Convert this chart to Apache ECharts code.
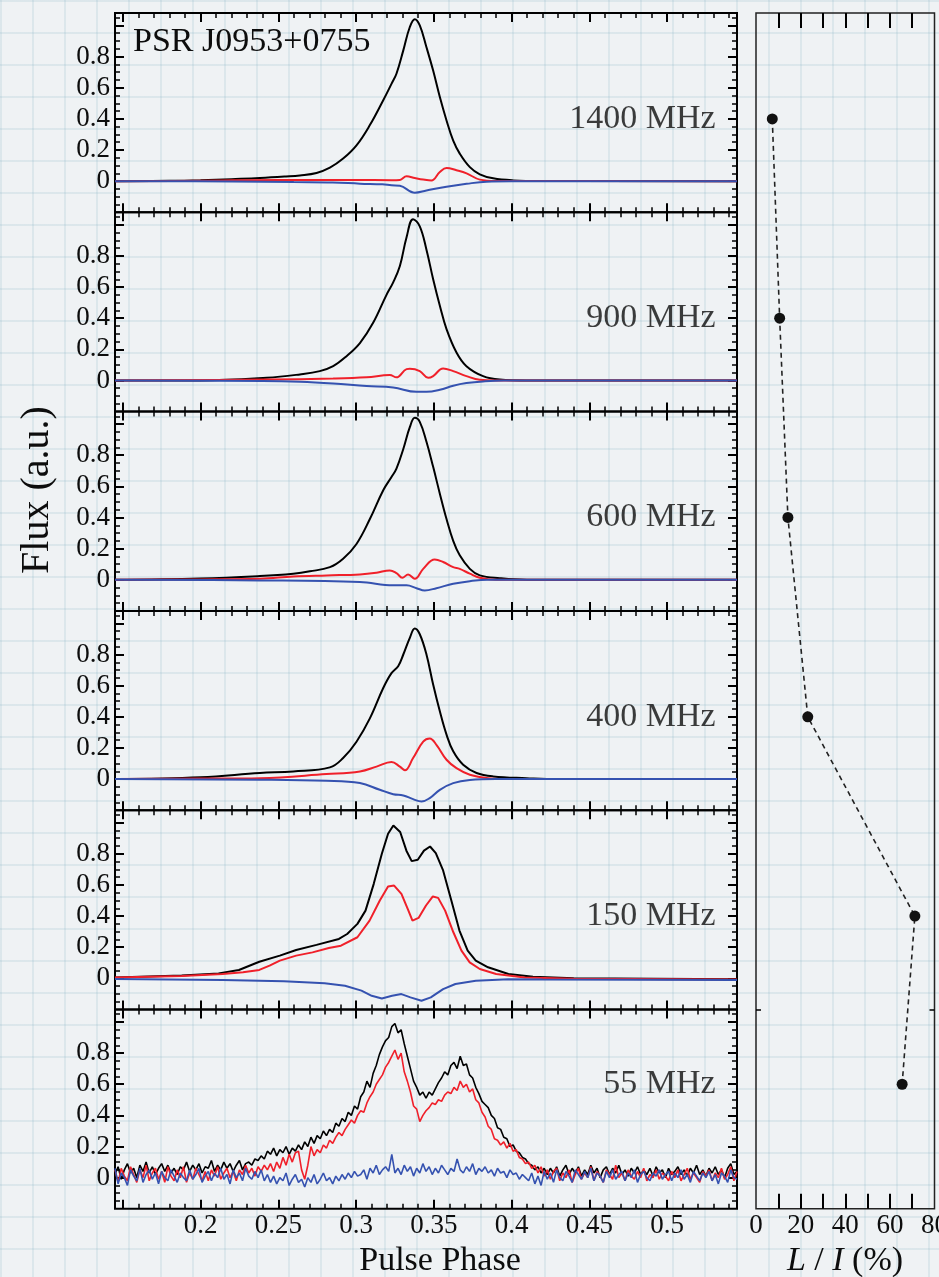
<!DOCTYPE html>
<html><head><meta charset="utf-8">
<script src="https://cdn.jsdelivr.net/npm/echarts@6/dist/echarts.min.js"></script>
<style>
html,body{margin:0;padding:0;background:#eff2f4;}
#c{width:939px;height:1277px;background-color:#eff2f4;
background-image:
 linear-gradient(to right, rgba(150,190,205,0.22) 0, rgba(150,190,205,0.22) 2px, transparent 2px),
 linear-gradient(to bottom, rgba(150,190,205,0.22) 0, rgba(150,190,205,0.22) 2px, transparent 2px);
background-size:32px 32px;}
</style></head><body><div id="c"></div><script>
// ---------------- DATA ----------------
const FREQ_LABELS = ['1400 MHz','900 MHz','600 MHz','400 MHz','150 MHz','55 MHz'];
const LABEL_LEVEL = [0.4,0.4,0.4,0.4,0.4,0.6];
const LI_PERCENT = [7.3,10.6,14.3,23.2,71.2,65.5];
const PHASE_TICKS = [0.2,0.25,0.3,0.35,0.4,0.45,0.5];
const FLUX_TICKS = [0,0.2,0.4,0.6,0.8];
const LI_TICKS = [0,20,40,60,80];

// 1400 MHz  [phase, flux]
const I_1400 = [[0.145,0],[0.18,0.002],[0.2,0.006],[0.22,0.013],[0.2382,0.02],[0.255,0.03],[0.2639,0.037],[0.2746,0.053],[0.2832,0.087],[0.2917,0.145],[0.3003,0.23],[0.3089,0.36],[0.3175,0.52],[0.3228,0.625],[0.326,0.69],[0.3304,0.84],[0.3346,0.99],[0.3378,1.04],[0.341,1.0],[0.3453,0.86],[0.3496,0.71],[0.3539,0.54],[0.3582,0.39],[0.3625,0.26],[0.3667,0.177],[0.3732,0.09],[0.3796,0.044],[0.3882,0.018],[0.4011,0.005],[0.42,0.001],[0.545,0]];
const L_1400 = [[0.145,0],[0.2,0.003],[0.25,0.008],[0.3,0.008],[0.3228,0.006],[0.3282,0.008],[0.3325,0.031],[0.3378,0.02],[0.3432,0.01],[0.3485,0.004],[0.3539,0.059],[0.3582,0.085],[0.3646,0.07],[0.3711,0.05],[0.3796,0.01],[0.39,0.001],[0.545,0]];
const V_1400 = [[0.145,0],[0.22,-0.002],[0.26,-0.006],[0.285,-0.008],[0.3025,-0.016],[0.317,-0.02],[0.3228,-0.027],[0.3282,-0.03],[0.3378,-0.074],[0.3453,-0.06],[0.3582,-0.036],[0.3711,-0.017],[0.384,-0.003],[0.4,0],[0.545,0]];
// 900 MHz
const I_900 = [[0.145,0],[0.1997,0],[0.2425,0.017],[0.2639,0.039],[0.2767,0.06],[0.2853,0.092],[0.2939,0.156],[0.3025,0.24],[0.311,0.37],[0.3196,0.55],[0.3239,0.63],[0.3282,0.735],[0.3325,0.92],[0.3367,1.036],[0.341,0.99],[0.3453,0.84],[0.3496,0.65],[0.3539,0.48],[0.3582,0.33],[0.3646,0.18],[0.371,0.092],[0.3817,0.028],[0.3924,0.006],[0.41,0],[0.545,0]];
const L_900 = [[0.145,0],[0.2425,0.006],[0.2853,0.012],[0.3068,0.02],[0.3217,0.035],[0.326,0.02],[0.3325,0.073],[0.3346,0.075],[0.341,0.06],[0.3464,0.017],[0.3496,0.028],[0.356,0.077],[0.3625,0.06],[0.371,0.028],[0.3796,0.004],[0.39,0],[0.545,0]];
const V_900 = [[0.145,0],[0.24,-0.004],[0.2639,-0.009],[0.2853,-0.02],[0.3068,-0.036],[0.3239,-0.045],[0.3389,-0.073],[0.3453,-0.073],[0.3539,-0.06],[0.3625,-0.034],[0.371,-0.017],[0.3817,-0.006],[0.395,0],[0.545,0]];
// 600 MHz
const I_600 = [[0.145,0],[0.2,0.008],[0.2382,0.024],[0.2596,0.039],[0.2703,0.054],[0.2832,0.081],[0.2917,0.135],[0.3003,0.23],[0.3089,0.39],[0.3175,0.575],[0.3228,0.66],[0.326,0.714],[0.3304,0.84],[0.3346,0.98],[0.3378,1.04],[0.341,1.014],[0.3453,0.886],[0.3496,0.725],[0.3539,0.553],[0.3582,0.39],[0.3625,0.25],[0.3667,0.157],[0.3732,0.07],[0.3796,0.028],[0.3924,0.01],[0.41,0],[0.545,0]];
const L_600 = [[0.145,0],[0.2,0.002],[0.2382,0.006],[0.2596,0.021],[0.281,0.028],[0.3025,0.034],[0.3132,0.045],[0.3217,0.06],[0.326,0.043],[0.3298,0.013],[0.3335,0.034],[0.3378,0.006],[0.3432,0.07],[0.3506,0.13],[0.356,0.114],[0.3625,0.081],[0.3667,0.07],[0.3732,0.039],[0.3796,0.013],[0.39,0],[0.545,0]];
const V_600 = [[0.145,0],[0.2382,-0.004],[0.3025,-0.015],[0.3239,-0.036],[0.3325,-0.036],[0.3389,-0.054],[0.3442,-0.069],[0.3517,-0.054],[0.3625,-0.026],[0.3732,-0.009],[0.385,0],[0.545,0]];
// 400 MHz
const I_400 = [[0.145,0],[0.2,0.012],[0.2382,0.039],[0.2596,0.049],[0.2832,0.075],[0.2917,0.135],[0.3003,0.24],[0.3089,0.39],[0.3175,0.585],[0.3228,0.68],[0.3271,0.725],[0.3304,0.8],[0.3346,0.907],[0.3378,0.967],[0.341,0.93],[0.3453,0.8],[0.3496,0.607],[0.3539,0.435],[0.3582,0.285],[0.3625,0.178],[0.3689,0.092],[0.3775,0.039],[0.3882,0.017],[0.4096,0.006],[0.43,0],[0.545,0]];
const L_400 = [[0.145,0],[0.2,0.003],[0.2382,0.006],[0.281,0.032],[0.3025,0.049],[0.3132,0.08],[0.3228,0.11],[0.3282,0.08],[0.3314,0.056],[0.3367,0.135],[0.3432,0.24],[0.3474,0.26],[0.3517,0.22],[0.3582,0.124],[0.3646,0.07],[0.3732,0.028],[0.385,0.006],[0.4,0],[0.545,0]];
const V_400 = [[0.145,0],[0.2382,-0.004],[0.281,-0.011],[0.3025,-0.026],[0.3153,-0.069],[0.3239,-0.097],[0.3304,-0.105],[0.3367,-0.129],[0.3421,-0.144],[0.3474,-0.122],[0.3539,-0.069],[0.3625,-0.026],[0.3732,-0.006],[0.39,0],[0.545,0]];
// 150 MHz
const I_150 = [[0.145,0.006],[0.1879,0.019],[0.2116,0.032],[0.2247,0.054],[0.2378,0.107],[0.251,0.146],[0.2615,0.182],[0.2746,0.215],[0.289,0.253],[0.2943,0.285],[0.3009,0.35],[0.3061,0.435],[0.3114,0.607],[0.3166,0.8],[0.3206,0.929],[0.324,0.982],[0.3284,0.94],[0.3324,0.82],[0.3358,0.753],[0.3397,0.762],[0.3437,0.82],[0.3476,0.847],[0.3513,0.804],[0.356,0.693],[0.3613,0.5],[0.3665,0.307],[0.3718,0.178],[0.377,0.114],[0.3849,0.071],[0.398,0.028],[0.4138,0.011],[0.44,0.0],[0.545,-0.006]];
const L_150 = [[0.145,0.006],[0.1879,0.015],[0.2142,0.028],[0.2273,0.039],[0.2378,0.054],[0.2444,0.082],[0.251,0.114],[0.2615,0.146],[0.272,0.167],[0.2825,0.195],[0.2903,0.21],[0.3009,0.264],[0.3087,0.371],[0.3153,0.5],[0.3206,0.59],[0.3245,0.596],[0.3292,0.543],[0.3337,0.435],[0.3363,0.371],[0.3402,0.388],[0.345,0.468],[0.3494,0.526],[0.3528,0.517],[0.3573,0.435],[0.3626,0.296],[0.3678,0.178],[0.3731,0.103],[0.3796,0.06],[0.3901,0.028],[0.4085,0.006],[0.44,-0.002],[0.545,-0.008]];
const V_150 = [[0.145,-0.004],[0.2142,-0.011],[0.2536,-0.019],[0.2798,-0.032],[0.2929,-0.047],[0.3035,-0.079],[0.3101,-0.112],[0.3166,-0.129],[0.3232,-0.112],[0.3292,-0.101],[0.335,-0.122],[0.3421,-0.144],[0.3481,-0.122],[0.356,-0.069],[0.3639,-0.036],[0.377,-0.015],[0.398,-0.006],[0.42,-0.008],[0.545,-0.011]];
// 55 MHz: binned profile, first bin at PHASE55_START, bin width PHASE55_STEP
const PHASE55_START = 0.145, PHASE55_STEP = 0.002;
const I_55 = [0.02,0.07,-0.01,0.05,0.09,0.03,0.06,0.00,0.08,0.04,
0.10,0.03,0.07,0.02,0.06,0.09,0.04,0.08,0.03,0.06,
0.02,0.07,0.05,0.10,0.04,0.08,0.05,0.09,0.03,0.07,
0.06,0.11,0.04,0.08,0.05,0.10,0.06,0.09,0.04,0.08,
0.11,0.05,0.09,0.10,0.08,0.12,0.11,0.14,0.12,0.17,
0.15,0.19,0.14,0.18,0.16,0.20,0.15,0.19,0.17,0.21,
0.18,0.23,0.20,0.26,0.22,0.27,0.25,0.30,0.27,0.31,
0.29,0.35,0.33,0.38,0.36,0.42,0.40,0.46,0.44,0.52,
0.55,0.62,0.58,0.67,0.72,0.79,0.84,0.88,0.90,0.97,
0.99,0.93,0.95,0.86,0.78,0.70,0.62,0.58,0.53,0.55,
0.51,0.55,0.53,0.57,0.61,0.64,0.68,0.66,0.72,0.74,
0.70,0.78,0.72,0.73,0.66,0.64,0.58,0.54,0.49,0.47,
0.45,0.40,0.38,0.32,0.31,0.26,0.25,0.20,0.21,0.17,
0.16,0.13,0.12,0.09,0.08,0.05,0.07,0.03,0.06,0.02,
0.06,0.03,0.07,0.01,0.05,0.08,0.02,0.06,0.03,0.07,
0.01,0.05,0.02,0.08,0.03,0.06,0.00,0.05,0.07,0.02,
0.06,0.03,0.08,0.02,0.05,0.01,0.06,0.03,0.07,0.02,
0.05,0.02,0.06,0.01,0.07,0.03,0.05,0.00,0.06,0.02,
0.04,0.07,0.02,0.05,0.01,0.06,0.03,0.08,0.02,0.05,
0.01,0.06,0.03,0.07,0.02,0.05,0.00,0.06,0.09,0.02,
0.04];
const L_55 = [0.05,-0.03,0.06,0.01,-0.02,0.07,0.02,-0.03,0.05,0.00,
0.08,-0.02,0.03,0.06,-0.01,0.04,-0.03,0.07,0.01,-0.02,
0.05,0.00,0.07,-0.03,0.03,-0.01,0.06,0.02,-0.02,0.04,
-0.02,0.05,0.01,0.07,-0.01,0.03,0.06,0.00,0.04,-0.02,
0.05,0.02,0.08,0.03,0.06,0.01,0.07,0.04,0.08,0.05,
0.09,0.04,0.10,0.06,0.13,0.08,0.15,0.10,0.16,0.17,
0.05,-0.01,0.08,0.20,0.14,0.18,0.16,0.21,0.19,0.24,
0.22,0.26,0.29,0.27,0.31,0.34,0.37,0.35,0.40,0.43,
0.42,0.48,0.52,0.55,0.60,0.63,0.66,0.71,0.74,0.78,
0.82,0.76,0.80,0.68,0.62,0.55,0.46,0.44,0.36,0.40,
0.43,0.45,0.48,0.47,0.50,0.49,0.53,0.55,0.54,0.58,
0.56,0.62,0.58,0.60,0.55,0.57,0.50,0.48,0.42,0.39,
0.33,0.31,0.25,0.24,0.21,0.23,0.19,0.22,0.17,0.18,
0.13,0.12,0.09,0.10,0.06,0.08,0.03,0.07,0.01,0.05,
-0.01,0.04,0.06,-0.02,0.03,0.00,0.05,-0.03,0.02,0.06,
-0.01,0.03,0.00,0.07,-0.02,0.04,0.01,-0.03,0.05,0.02,
-0.01,0.08,0.00,0.03,-0.02,0.05,0.01,-0.01,0.04,0.00,
0.06,-0.02,0.02,0.00,0.05,-0.01,0.03,0.01,-0.02,0.04,
0.00,0.05,-0.02,0.02,0.06,-0.01,0.03,0.00,-0.03,0.04,
0.01,0.05,-0.02,0.03,0.00,0.06,-0.01,0.02,0.07,-0.02,
0.04];
const V_55 = [0.06,-0.04,0.03,0.00,-0.05,0.05,0.01,-0.02,0.06,-0.03,
0.02,0.05,-0.01,0.03,-0.04,0.04,0.00,-0.02,0.05,0.01,
-0.03,0.03,0.00,-0.02,0.05,-0.01,0.02,0.06,-0.03,0.01,
0.04,-0.02,0.03,0.00,0.06,-0.01,0.02,-0.04,0.05,0.00,
0.03,-0.02,0.06,0.01,-0.01,0.04,0.00,0.05,-0.02,0.02,
-0.03,0.01,-0.04,0.00,-0.02,0.03,-0.05,-0.01,0.02,-0.03,
-0.01,-0.06,0.00,-0.03,0.02,-0.04,-0.01,0.03,-0.02,0.00,
-0.04,0.01,-0.02,0.02,-0.01,0.03,0.00,0.04,0.01,0.02,
0.05,-0.01,0.06,0.03,0.08,0.02,0.05,0.07,0.04,0.15,
0.03,0.06,0.02,0.08,0.04,0.07,0.01,0.06,0.03,0.09,
0.04,0.07,0.02,0.06,0.03,0.08,0.05,0.02,0.06,0.04,
0.12,0.05,0.03,0.07,0.04,0.09,0.02,0.06,0.04,0.07,
0.03,0.05,0.01,0.06,0.03,0.04,0.00,0.05,0.02,0.03,
-0.01,0.02,0.00,-0.02,0.03,-0.04,0.01,-0.05,0.04,-0.01,
0.03,-0.03,0.05,0.00,-0.02,0.04,0.01,-0.03,0.05,0.02,
-0.01,0.04,0.00,0.06,-0.02,0.03,0.01,-0.03,0.04,0.00,
0.05,-0.01,0.02,0.04,-0.02,0.03,0.00,0.05,-0.03,0.02,
0.04,0.00,-0.02,0.03,0.01,0.05,-0.01,0.02,0.04,-0.02,
0.03,0.00,0.05,-0.01,0.02,-0.03,0.04,0.01,-0.02,0.03,
0.00,0.04,-0.02,0.02,-0.04,0.03,0.01,-0.03,0.05,0.00,
-0.01];

// ---------------- LAYOUT / STYLE ----------------
const binned = arr => arr.map((v,i)=>[+(PHASE55_START + i*PHASE55_STEP).toFixed(4), v]);
const PANELS = [
  {I:I_1400, L:L_1400, V:V_1400, smooth:0.4, w:2},
  {I:I_900,  L:L_900,  V:V_900,  smooth:0.4, w:2},
  {I:I_600,  L:L_600,  V:V_600,  smooth:0.4, w:2},
  {I:I_400,  L:L_400,  V:V_400,  smooth:0.4, w:2},
  {I:I_150,  L:L_150,  V:V_150,  smooth:0,   w:2},
  {I:binned(I_55), L:binned(L_55), V:binned(V_55), smooth:0, w:1.6}
];
const XMIN=0.145, XMAX=0.545, YMIN=-0.2, YMAX=1.08;
const TOP=13, PH=199.3, LEFT=115, W=622;
const SERIF='"Liberation Serif","Times New Roman",serif';
const TXT='#0d0d0d';
const C_I='#000000', C_L='#f0202a', C_V='#3552b0';
function steps(a,b,s){const o=[];for(let k=0;a+k*s<=b+1e-9;k++)o.push(+(a+k*s).toFixed(4));return o;}
const xMajor=steps(0.15,0.5,0.05), xMinor=steps(0.15,0.54,0.01);
const yMajor=steps(0,1.0,0.2), yMinor=steps(-0.15,1.05,0.05);
const fmt = v => String(+(+v).toFixed(2));

const grids=[], xAxes=[], yAxes=[], series=[];
function tickAxis(kind, g, pos, vals, len, min, max, label, extra){
  const ax = {type:'value', gridIndex:g, position:pos, min:min, max:max,
    axisLine:{show:false, onZero:false}, splitLine:{show:false},
    axisTick:{show:true, inside:true, length:len, customValues:vals, lineStyle:{color:'#000', width: len>6?2:1.5}},
    axisLabel: label ? Object.assign({show:true, fontFamily:SERIF, fontSize:27, color:TXT}, label) : {show:false}};
  Object.assign(ax, extra||{});
  (kind==='x'?xAxes:yAxes).push(ax);
  return (kind==='x'?xAxes:yAxes).length-1;
}
PANELS.forEach((p,k)=>{
  grids.push({left:LEFT, top:TOP+k*PH, width:W, height:PH, show:true, borderColor:'#000', borderWidth:2,
    backgroundColor:'transparent', containLabel:false, outerBoundsMode:'none'});
  const xi = tickAxis('x',k,'bottom',xMajor,9,XMIN,XMAX, k===5?{customValues:PHASE_TICKS, formatter:fmt, margin:4}:null);
  tickAxis('x',k,'bottom',xMinor,5,XMIN,XMAX,null);
  tickAxis('x',k,'top',xMajor,9,XMIN,XMAX,null);
  tickAxis('x',k,'top',xMinor,5,XMIN,XMAX,null);
  const yi = tickAxis('y',k,'left',yMajor,9,YMIN,YMAX,{customValues:FLUX_TICKS, formatter:fmt, margin:5});
  tickAxis('y',k,'left',yMinor,5,YMIN,YMAX,null);
  tickAxis('y',k,'right',yMajor,9,YMIN,YMAX,null);
  tickAxis('y',k,'right',yMinor,5,YMIN,YMAX,null);
  [['I',C_I],['L',C_L],['V',C_V]].forEach(([key,col])=>{
    series.push({type:'line', xAxisIndex:xi, yAxisIndex:yi, data:p[key], showSymbol:false, symbol:'none',
      smooth:p.smooth, lineStyle:{color:col, width:p.w}, animation:false, silent:true, clip:true});
  });
  series.push({type:'scatter', xAxisIndex:xi, yAxisIndex:yi, symbolSize:0, silent:true, animation:false,
    data:[[0.5313, LABEL_LEVEL[k]]],
    label:{show:true, position:'left', distance:0, formatter:FREQ_LABELS[k], fontFamily:SERIF, fontSize:34, color:TXT}});
});
// right-hand L/I panel
const RG = grids.length;
grids.push({left:756, top:TOP, width:178.5, height:PH*6, show:true, borderColor:'#222', borderWidth:1.5,
  backgroundColor:'transparent', containLabel:false, outerBoundsMode:'none'});
const rx = tickAxis('x',RG,'bottom',steps(10,70,10),15,0,80,{customValues:LI_TICKS, margin:4});
tickAxis('x',RG,'top',steps(10,70,10),15,0,80,null);
const ry = tickAxis('y',RG,'left',[5],5,0,6,null,{inverse:true});
tickAxis('y',RG,'right',[5],5,0,6,null,{inverse:true});
// each point sits at its panel's label level
const liRow = LABEL_LEVEL.map((lv,i)=> i + (YMAX-lv)/(YMAX-YMIN));
series.push({type:'line', xAxisIndex:rx, yAxisIndex:ry, data:LI_PERCENT.map((v,i)=>[v, liRow[i]]),
  symbol:'circle', symbolSize:11, itemStyle:{color:'#111'}, lineStyle:{color:'#222', width:1.6, type:[5,4]}, animation:false, silent:true});

const chart = echarts.init(document.getElementById('c'), null, {renderer:'canvas'});
chart.setOption({
  backgroundColor:'transparent', animation:false,
  grid:grids, xAxis:xAxes, yAxis:yAxes, series:series,
  graphic:[
    {type:'text', x:133, y:42, silent:true, style:{text:'PSR J0953+0755', fontFamily:SERIF, fontSize:34, fill:TXT, verticalAlign:'middle'}},
    {type:'text', x:37, y:490, rotation:Math.PI/2, silent:true, style:{text:'Flux (a.u.)', fontFamily:SERIF, fontSize:40, fill:TXT, align:'center', verticalAlign:'middle'}},
    {type:'text', x:440, y:1261, silent:true, style:{text:'Pulse Phase', fontFamily:SERIF, fontSize:34, fill:TXT, align:'center', verticalAlign:'middle'}},
    {type:'text', x:845, y:1261, silent:true, style:{text:'{i|L} / {i|I} (%)', fontFamily:SERIF, fontSize:34, fill:TXT, align:'center', verticalAlign:'middle',
      rich:{i:{fontStyle:'italic', fontFamily:SERIF, fontSize:34, fill:TXT}}}}
  ]
});
</script></body></html>
